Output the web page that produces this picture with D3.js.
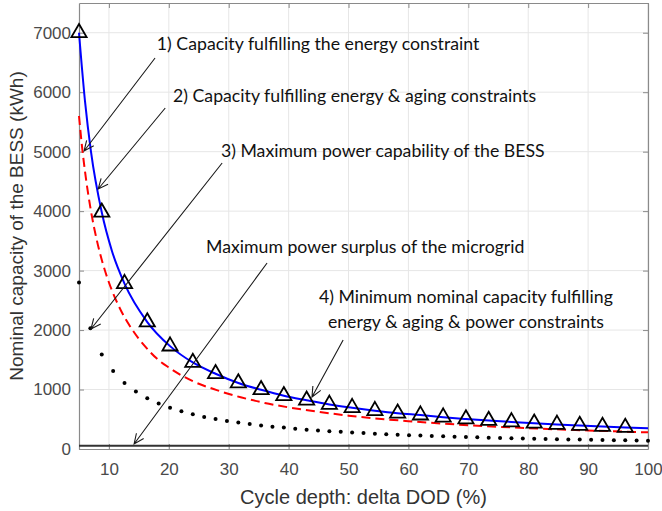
<!DOCTYPE html>
<html>
<head>
<meta charset="utf-8">
<script src="https://cdn.jsdelivr.net/npm/d3@7"></script>
<style>
  body { margin: 0; background: #fff; }
  text { font-family: "Liberation Sans", Arial, sans-serif; }
</style>
</head>
<body>
<script>

// triangles: minimum nominal capacity (energy & aging & power)
var dodTri = [5, 8.8, 12.6, 16.4, 20.2, 24, 27.8, 31.6, 35.4, 39.2, 43, 46.8, 50.6,
              54.4, 58.2, 62, 65.8, 69.6, 73.4, 77.2, 81, 84.8, 88.6, 92.4, 96.2];
var capTri = [7000, 3980, 2780, 2135, 1730, 1455, 1265, 1110, 995, 895, 820, 750, 695,
              645, 602, 570, 535, 505, 478, 455, 433, 413, 395, 378, 362];

// blue: capacity fulfilling the energy constraint
var dodBlue = [5, 6, 7, 8.8, 10.5, 12.6, 16.4, 20.2, 24, 27.8, 31.6, 35.4, 39.2, 43, 46.8, 50.6,
               54.4, 58.2, 62, 65.8, 69.6, 73.4, 77.2, 81, 84.8, 88.6, 92.4, 96.2, 100];
var capBlue = [7000, 5850, 5000, 3980, 3330, 2780, 2135, 1730, 1455, 1265, 1110, 995, 895, 820, 750, 695,
               645, 602, 570, 535, 505, 478, 455, 433, 413, 395, 378, 362, 348];

// red dashed: capacity fulfilling energy & aging constraints
var dodRed = [5, 5.5, 6, 7, 8, 9, 10, 12, 14, 16, 18, 20, 24, 28, 32, 36, 40, 45, 50, 60, 70, 80, 90, 100];
var capRed = [5600, 5090, 4670, 4000, 3500, 3110, 2800, 2330, 1990, 1730, 1520, 1370, 1140, 990,
              870, 775, 700, 625, 560, 468, 400, 350, 312, 280];

// dots: maximum power capability of the BESS
var dodDot = [5, 6.9, 8.8, 10.7, 12.6, 14.5, 16.4, 18.3, 20.2, 22.1, 24, 25.9, 27.8, 29.7, 31.6,
              33.5, 35.4, 37.3, 39.2, 41.1, 43, 44.9, 46.8, 48.7, 50.6, 52.5, 54.4, 56.3, 58.2,
              60.1, 62, 63.9, 65.8, 67.7, 69.6, 71.5, 73.4, 75.3, 77.2, 79.1, 81, 82.9, 84.8,
              86.7, 88.6, 90.5, 92.4, 94.3, 96.2, 98.1, 100];
var capDot = [2800, 2030, 1590, 1310, 1110, 965, 855, 765, 695, 635, 585, 540, 505, 470, 445,
              420, 395, 375, 360, 340, 325, 312, 300, 288, 277, 267, 257, 249, 241,
              233, 226, 219, 213, 207, 201, 196, 191, 186, 181, 177, 173, 169, 165,
              161, 158, 155, 152, 149, 146, 143, 140];

// maximum power surplus of the microgrid
var surplus = 55;

var xTicks = [10, 20, 30, 40, 50, 60, 70, 80, 90, 100];
var yTicks = [0, 1000, 2000, 3000, 4000, 5000, 6000, 7000];

// annotations: text lines and arrows (data coordinates)
var notes = [
  {x: 18.0, y: 6709, anchor: 'start', text: '1) Capacity fulfilling the energy constraint'},
  {x: 20.7, y: 5835, anchor: 'start', text: '2) Capacity fulfilling energy & aging constraints'},
  {x: 28.7, y: 4910, anchor: 'start', text: '3) Maximum power capability of the BESS'},
  {x: 26.2, y: 3296, anchor: 'start', text: 'Maximum power surplus of the microgrid'},
  {x: 69.6, y: 2455, anchor: 'middle', text: '4) Minimum nominal capacity fulfilling'},
  {x: 69.6, y: 2035, anchor: 'middle', text: 'energy & aging & power constraints'}
];
var arrows = [
  {x1: 17.7, y1: 6575, x2: 5.85, y2: 5011},
  {x1: 19.4, y1: 5734, x2: 8.2, y2: 4372},
  {x1: 28.9, y1: 4809, x2: 7.0, y2: 2018},
  {x1: 36.4, y1: 3128, x2: 14.2, y2: 84},
  {x1: 49.1, y1: 1833, x2: 43.9, y2: 874}
];

var width = 662,
    height = 511;
var margin = {top: 3, right: 14, bottom: 62, left: 79};
var w = width - margin.left - margin.right,
    h = height - margin.top - margin.bottom;

var svg = d3.select('body')
  .append('svg')
  .attr('width', width)
  .attr('height', height);

var g = svg.append('g')
  .attr('transform', 'translate(' + margin.left + ',' + margin.top + ')');

var x = d3.scaleLinear().domain([5, 100]).range([0, w]);
var y = d3.scaleLinear().domain([0, 7500]).range([h, 0]);

// grid
g.append('g').selectAll('line')
  .data(xTicks)
  .enter().append('line')
  .attr('x1', d => x(d)).attr('x2', d => x(d))
  .attr('y1', 0).attr('y2', h)
  .attr('stroke', '#e6e6e6');
g.append('g').selectAll('line')
  .data(yTicks.slice(1))
  .enter().append('line')
  .attr('x1', 0).attr('x2', w)
  .attr('y1', d => y(d)).attr('y2', d => y(d))
  .attr('stroke', '#e6e6e6');

// axes
var axisColor = '#8a8a8a';
var xAxis = g.append('g')
  .attr('transform', 'translate(0,' + h + ')')
  .call(d3.axisBottom(x).tickValues(xTicks).tickSizeInner(-5).tickSizeOuter(0).tickPadding(14));
var yAxis = g.append('g')
  .call(d3.axisLeft(y).tickValues(yTicks).tickFormat(d3.format('d'))
    .tickSizeInner(-5).tickSizeOuter(0).tickPadding(8));
var xTop = g.append('g')
  .call(d3.axisTop(x).tickValues(xTicks).tickSizeInner(-5).tickSizeOuter(0).tickFormat(''));
var yRight = g.append('g')
  .attr('transform', 'translate(' + w + ',0)')
  .call(d3.axisRight(y).tickValues(yTicks).tickSizeInner(-5).tickSizeOuter(0).tickFormat(''));

[xAxis, yAxis, xTop, yRight].forEach(function(a) {
  a.select('.domain').attr('stroke', axisColor).attr('stroke-width', 1.2);
  a.selectAll('.tick line').attr('stroke', axisColor);
  a.selectAll('.tick text')
    .attr('fill', '#4a4a4a')
    .style('font-size', '17px')
    .style('font-family', '"Liberation Sans", Arial, sans-serif');
});

// surplus line
g.append('line')
  .attr('x1', x(5)).attr('x2', x(100))
  .attr('y1', y(surplus)).attr('y2', y(surplus))
  .attr('stroke', '#333')
  .attr('stroke-width', 2.2);

// dots
g.append('g').selectAll('circle')
  .data(dodDot)
  .enter().append('circle')
  .attr('cx', d => x(d))
  .attr('cy', (d, i) => y(capDot[i]))
  .attr('r', 2)
  .attr('fill', '#000');

// red dashed
var line = d3.line().curve(d3.curveMonotoneX);
g.append('path')
  .attr('d', line(dodRed.map((d, i) => [x(d), y(capRed[i])])))
  .attr('fill', 'none')
  .attr('stroke', '#ff0000')
  .attr('stroke-width', 2)
  .attr('stroke-dasharray', '9,5');

// blue line
g.append('path')
  .attr('d', line(dodBlue.map((d, i) => [x(d), y(capBlue[i])])))
  .attr('fill', 'none')
  .attr('stroke', '#0000ff')
  .attr('stroke-width', 2);

// triangles
var tri = d3.symbol().type(d3.symbolTriangle).size(100);
g.append('g').selectAll('path')
  .data(dodTri)
  .enter().append('path')
  .attr('d', tri)
  .attr('transform', (d, i) => 'translate(' + x(d) + ',' + y(capTri[i]) + ')')
  .attr('fill', 'none')
  .attr('stroke', '#000')
  .attr('stroke-width', 1.8);

// arrows
arrows.forEach(function(a) {
  var x1 = x(a.x1), y1 = y(a.y1), x2 = x(a.x2), y2 = y(a.y2);
  var ang = Math.atan2(y2 - y1, x2 - x1);
  var len = 11, spread = 0.42;
  var p1 = [x2 - len * Math.cos(ang - spread), y2 - len * Math.sin(ang - spread)];
  var p2 = [x2 - len * Math.cos(ang + spread), y2 - len * Math.sin(ang + spread)];
  g.append('path')
    .attr('d', 'M' + x1 + ',' + y1 + 'L' + x2 + ',' + y2 +
               'M' + p1[0] + ',' + p1[1] + 'L' + x2 + ',' + y2 + 'L' + p2[0] + ',' + p2[1])
    .attr('fill', 'none')
    .attr('stroke', '#1a1a1a')
    .attr('stroke-width', 1.1);
});

// annotation text
g.append('g').selectAll('text')
  .data(notes)
  .enter().append('text')
  .attr('x', d => x(d.x))
  .attr('y', d => y(d.y))
  .attr('text-anchor', d => d.anchor)
  .style('font-family', 'Lato, "Open Sans", sans-serif')
  .style('font-size', '17.7px')
  .attr('fill', '#111')
  .text(d => d.text);

// axis labels
svg.append('text')
  .attr('x', margin.left + w / 2)
  .attr('y', 504)
  .attr('text-anchor', 'middle')
  .style('font-size', '20px')
  .attr('fill', '#333')
  .text('Cycle depth: delta DOD (%)');

svg.append('text')
  .attr('transform', 'translate(23,' + (margin.top + h / 2) + ') rotate(-90)')
  .attr('text-anchor', 'middle')
  .style('font-size', '19px')
  .attr('fill', '#333')
  .text('Nominal capacity of the BESS (kWh)');

</script>
</body>
</html>
